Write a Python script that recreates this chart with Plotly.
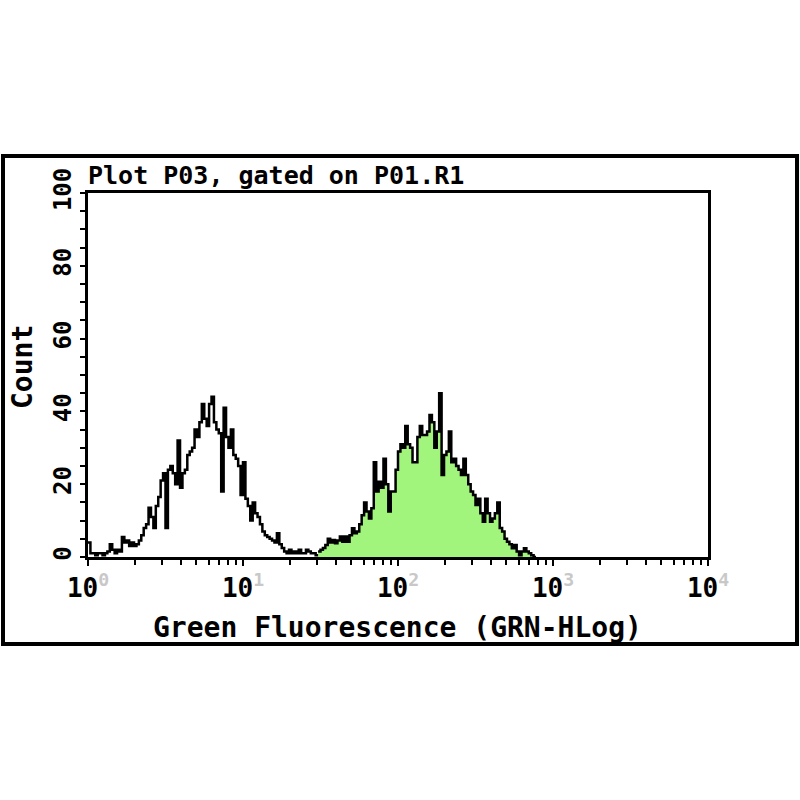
import plotly.graph_objects as go

# histogram channels: 256 channels over 4 log decades
CHANNELS_PER_DECADE = 64

unstained_start = 0
unstained_counts = [
    4, 1, 1, 0.5, 1, 1, 0.5, 1, 1.5, 3.5,
    2, 1, 2, 1.5, 5.5, 4, 4.5, 3, 4, 3,
    3.5, 4.5, 6, 8, 9, 13.5, 11, 8, 14, 16.5,
    21, 23, 8, 24, 25, 23, 20, 32, 19, 23,
    24, 28, 29, 30, 35, 33, 37, 42, 38, 36,
    42, 44, 37, 35, 34, 18, 41, 33, 30, 35,
    28, 27, 25, 17, 26, 16, 14, 10, 15, 12,
    11, 9, 7, 6, 5.5, 5, 4.5, 4, 6.5, 3.5,
    2.5, 1.5, 1, 2, 1, 1.5, 1, 2, 1, 1,
    2, 1.5, 1, 1, 0.5, 0.5, 1, 0.5, 0.5, 0,
]

stained_start = 95
stained_counts = [
    1.5, 2, 2.5, 3.3, 5, 4, 4.7, 3.8, 4.5, 5.6,
    4.2, 5.6, 4.2, 6, 7.9, 6.5, 7, 9, 11.5, 15,
    12.5, 10.6, 13.4, 26, 18, 20.7, 19, 27, 20, 12.5,
    18, 18, 24, 29, 31, 30, 36, 31, 30, 26,
    26, 33, 36, 33.5, 33.5, 34.5, 39, 37, 30, 34.5,
    45, 22.5, 28, 29, 34.5, 26, 27, 25, 24, 22.5,
    27, 22.5, 20, 18, 17, 14.3, 16, 12, 9.7, 16,
    12, 9.7, 10.6, 12, 15, 8, 7, 5, 4.2, 3.5,
    2.4, 3.3, 1.5, 0.5, 1.5, 2.4, 1.5, 1, 0.5, 0,
]

x_tick_vals = [1, 10, 100, 1000, 10000]
x_tick_text = ["10<sup><span style='color:#c8c8c8'>%d</span></sup>" % i for i in range(5)]
y_tick_vals = [0, 20, 40, 60, 80, 100]

title_text = "Plot P03, gated on P01.R1"
x_title = "Green Fluorescence (GRN-HLog)"
y_title = "Count"

FONT = "DejaVu Sans Mono"
W = H = 800


def px(x):
    return x / W


def py(y):
    return 1 - y / H


def channel_x(start, counts):
    # left edge of each channel on the fluorescence scale, plus closing edge
    return [10 ** ((start + i) / CHANNELS_PER_DECADE) for i in range(len(counts) + 1)]


fig = go.Figure()

fig.add_trace(go.Scatter(
    x=channel_x(unstained_start, unstained_counts),
    y=unstained_counts + [0],
    mode="lines", line=dict(color="black", width=2.5, shape="hv"),
    showlegend=False,
))
fig.add_trace(go.Scatter(
    x=channel_x(stained_start, stained_counts),
    y=stained_counts + [0],
    mode="lines", line=dict(color="black", width=2.5, shape="hv"),
    fill="tozeroy", fillcolor="#a2f57c",
    showlegend=False,
))

fig.update_layout(
    template="none",
    width=W, height=H,
    margin=dict(l=0, r=0, t=0, b=0, pad=0),
    paper_bgcolor="white", plot_bgcolor="white",
    font=dict(family=FONT, size=22, color="black", weight="bold"),
    xaxis=dict(
        type="log", range=[0, 4], domain=[px(88), px(708)], automargin=False,
        showgrid=False, zeroline=False,
        showline=True, linecolor="black", linewidth=2.5, mirror=True,
        tickvals=x_tick_vals, ticktext=x_tick_text,
        ticks="outside", ticklen=6, tickwidth=2, tickcolor="black",
        minor=dict(dtick="D1", ticks="outside", ticklen=5, tickwidth=2, tickcolor="black",
                   showgrid=False),
        tickfont=dict(size=26),
    ),
    yaxis=dict(
        range=[0, 100], domain=[py(557), py(193)], automargin=False,
        showgrid=False, zeroline=False,
        showline=True, linecolor="black", linewidth=2.5, mirror=True,
        tickvals=y_tick_vals, tickangle=-90,
        ticks="outside", ticklen=5, tickwidth=2, tickcolor="black",
        minor=dict(dtick=5, ticks="outside", ticklen=5, tickwidth=2, tickcolor="black",
                   showgrid=False),
        tickfont=dict(size=24),
    ),
    shapes=[dict(
        type="rect", xref="paper", yref="paper",
        x0=px(3), x1=px(797), y0=py(644), y1=py(156),
        line=dict(color="black", width=4), fillcolor="rgba(0,0,0,0)",
    )],
    annotations=[
        dict(text=title_text, xref="paper", yref="paper", x=px(86), y=py(176),
             xanchor="left", yanchor="middle", showarrow=False, font=dict(size=25)),
        dict(text=x_title, xref="paper", yref="paper", x=px(397), y=py(627),
             xanchor="center", yanchor="middle", showarrow=False, font=dict(size=28)),
        dict(text=y_title, xref="paper", yref="paper", x=px(22), y=py(367),
             xanchor="center", yanchor="middle", textangle=-90, showarrow=False,
             font=dict(size=28)),
    ],
)

# drop the default page margin so the 800x800 figure fills the window exactly
fig.write_html(
    "out.html",
    config={"displayModeBar": False},
    post_script="document.body.style.margin='0';document.body.style.overflow='hidden';",
)
